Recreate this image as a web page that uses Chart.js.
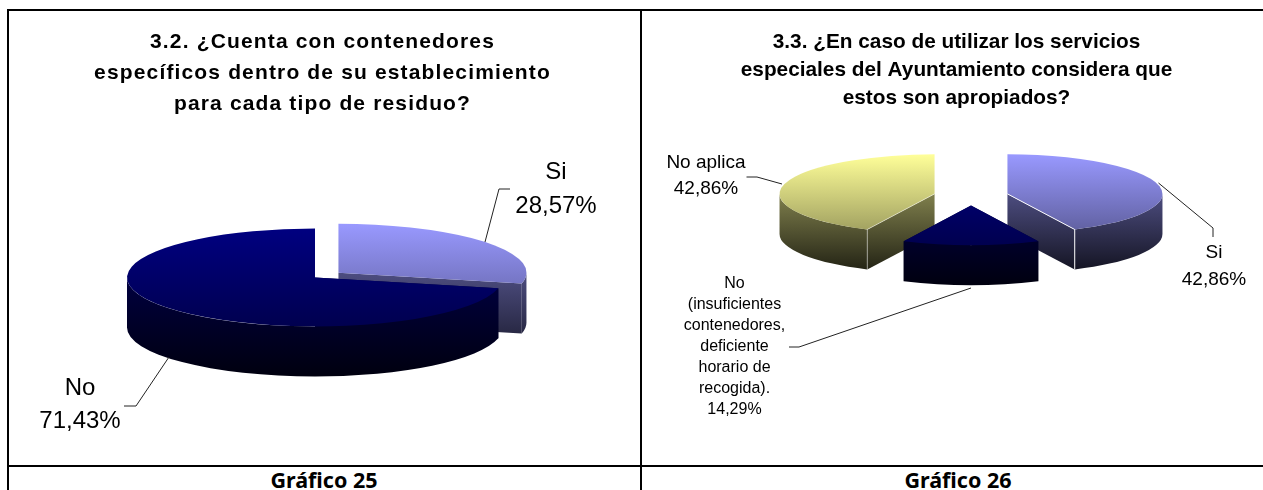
<!DOCTYPE html>
<html lang="es"><head><meta charset="utf-8">
<script src="https://cdn.jsdelivr.net/npm/chart.js@4"></script>
<style>
html,body{margin:0;padding:0;background:#fff;overflow:hidden}
#page{position:relative;width:1263px;height:490px;overflow:hidden}
.rule{position:absolute;background:#000}
canvas{position:absolute}
#w1{position:absolute;left:8px;top:12px;width:629px;height:452px}
#w2{position:absolute;left:642px;top:12px;width:629px;height:452px}
.cap{position:absolute;top:466px;height:28px;font:bold 21.5px/28px "Noto Sans",sans-serif;color:#000;text-align:center;white-space:nowrap}
</style></head><body>
<div id="page">
<div class="rule" style="left:7px;top:9px;width:1256px;height:2px"></div>
<div class="rule" style="left:7px;top:465px;width:1256px;height:2px"></div>
<div class="rule" style="left:7px;top:9px;width:2px;height:481px"></div>
<div class="rule" style="left:640px;top:9px;width:2px;height:481px"></div>
<div id="w1"><canvas id="c1"></canvas></div>
<div id="w2"><canvas id="c2"></canvas></div>
<div class="cap" style="left:8px;width:632px">Gráfico 25</div>
<div class="cap" style="left:642px;width:632px">Gráfico 26</div>
</div>
<script>
const categories1 = ['Si', 'No'];
const values1 = [28.57, 71.43];
const valueText1 = ['28,57%', '71,43%'];
const colors1 = ['#9999FF', '#000080'];
const title1 = ['3.2. ¿Cuenta con contenedores', 'específicos dentro de su establecimiento', 'para cada tipo de residuo?'];

const categories2 = ['Si', 'No (insuficientes contenedores, deficiente horario de recogida).', 'No aplica'];
const values2 = [42.86, 14.29, 42.86];
const valueText2 = ['42,86%', '14,29%', '42,86%'];
const colors2 = ['#9999FF', '#000080', '#FFFF99'];
const title2 = ['3.3. ¿En caso de utilizar los servicios', 'especiales del Ayuntamiento considera que', 'estos son apropiados?'];

function shade(hex, f) {
  const n = parseInt(hex.slice(1), 16);
  return `rgb(${Math.round((n>>16&255)*f)},${Math.round((n>>8&255)*f)},${Math.round((n&255)*f)})`;
}

// Draws the library's arc elements as an exploded, tilted pie with depth.
const tiltedPie = {
  id: 'tiltedPie',
  beforeDatasetDraw(chart, args, o) {
    const ctx = chart.ctx;
    const arcs = chart.getDatasetMeta(args.index).data;
    const k = o.tilt, depth = o.depth;
    const items = arcs.map((el, i) => {
      const mid = (el.startAngle + el.endAngle) / 2;
      const ex = o.explode[i];
      return {el, i, cx: o.center[0] + Math.cos(mid) * ex, cy: o.center[1] + Math.sin(mid) * ex * k};
    }).sort((a, b) => a.cy - b.cy);
    for (const it of items) {
      const {el, cx, cy} = it;
      const R = el.outerRadius, s = el.startAngle, e = el.endAngle;
      const base = el.options.backgroundColor;
      const px = a => cx + R * Math.cos(a), py = a => cy + R * k * Math.sin(a);
      const top = cy - R * k, front = cy + R * k;
      const wall = ctx.createLinearGradient(0, cy, 0, front + depth);
      wall.addColorStop(0, shade(base, o.wallTop));
      wall.addColorStop(1, shade(base, o.wallBottom));
      ctx.fillStyle = wall;
      for (const a of [s, e]) {
        ctx.beginPath();
        ctx.moveTo(cx, cy); ctx.lineTo(px(a), py(a));
        ctx.lineTo(px(a), py(a) + depth); ctx.lineTo(cx, cy + depth);
        ctx.closePath(); ctx.fill();
      }
      const a0 = Math.max(s, 0), a1 = Math.min(e, Math.PI);
      if (a1 > a0) {
        ctx.beginPath();
        ctx.ellipse(cx, cy, R, R * k, 0, a0, a1);
        ctx.ellipse(cx, cy + depth, R, R * k, 0, a1, a0, true);
        ctx.closePath(); ctx.fill();
      }
      const grad = ctx.createLinearGradient(0, top, 0, front);
      grad.addColorStop(0, base);
      grad.addColorStop(1, shade(base, o.topBottom));
      ctx.fillStyle = grad;
      ctx.beginPath();
      ctx.moveTo(cx, cy);
      ctx.ellipse(cx, cy, R, R * k, 0, s, e);
      ctx.closePath(); ctx.fill();
      if (o.edge && e - s < Math.PI * 0.9 && e - s > Math.PI * 0.5) {
        const a = s < -1 && e < Math.PI ? e : s;
        ctx.strokeStyle = base === '#9999FF' ? 'rgba(255,255,255,0.95)' : 'rgba(255,255,255,0.45)';
        ctx.lineWidth = 1;
        ctx.beginPath(); ctx.moveTo(cx, cy); ctx.lineTo(px(a), py(a));
        ctx.lineTo(px(a), py(a) + depth); ctx.stroke();
      }
    }
    return false;
  },
  afterDraw(chart, args, o) {
    const ctx = chart.ctx;
    ctx.save();
    ctx.letterSpacing = '0px';
    ctx.strokeStyle = '#222'; ctx.lineWidth = 1;
    for (const l of o.leaders) {
      ctx.beginPath();
      l.forEach((p, i) => i ? ctx.lineTo(p[0], p[1]) : ctx.moveTo(p[0], p[1]));
      ctx.stroke();
    }
    ctx.fillStyle = '#000'; ctx.textAlign = 'center'; ctx.textBaseline = 'middle';
    for (const b of o.labels) {
      ctx.font = `${b.size}px "Liberation Sans", Arial, sans-serif`;
      b.lines.forEach((t, i) => ctx.fillText(t, b.x, b.y + i * b.step));
    }
    ctx.restore();
  }
};

function make(id, labels, data, colors, title, titleFont, lineH, titleTop, radius, pie, spacing) {
  const c = document.getElementById(id);
  return new Chart(c, {
    type: 'pie',
    data: {labels, datasets: [{data, backgroundColor: colors, borderWidth: 0, radius}]},
    options: {
      responsive: true, maintainAspectRatio: false, animation: false,
      plugins: {
        legend: {display: false}, tooltip: {enabled: false},
        title: {display: true, text: title, color: '#000', padding: {top: titleTop, bottom: 0},
                font: {family: '"Liberation Sans", Arial, sans-serif', weight: 'bold', size: titleFont, lineHeight: lineH / titleFont}},
        tiltedPie: pie
      }
    },
    plugins: [{id: 'sp', beforeDraw(ch) { ch.ctx.letterSpacing = spacing; }}, tiltedPie]
  });
}

// canvas 1 origin is at page (8,12); canvas 2 at page (642,12)
const o1 = (x, y) => [x - 8, y - 12];
const o2 = (x, y) => [x - 642, y - 12];

make('c1', categories1, values1, colors1, title1, 21, 31, 15, 188, {
  center: o1(315, 277.5), explode: [30, 0],
  tilt: 0.26, depth: 50, wallTop: 0.5, wallBottom: 0.12, topBottom: 0.62, edge: false,
  leaders: [[o1(485,242), o1(499,189), o1(510,189)], [o1(169,357), o1(136,406), o1(124,406)]],
  labels: [
    {lines: [categories1[0], valueText1[0]], x: 556-8, y: 172-12, step: 34, size: 24},
    {lines: [categories1[1], valueText1[1]], x: 80-8, y: 388-12, step: 33, size: 24}
  ]
}, '1.15px');

make('c2', categories2, values2, colors2, title2, 20.8, 28, 16, 155, {
  center: o2(971, 196), explode: [37.4, 37.4, 37.4],
  tilt: 0.255, depth: 40, wallTop: 0.5, wallBottom: 0.12, topBottom: 0.62, edge: true,
  leaders: [[o2(1158.5,183), o2(1213,228), o2(1213,237)], [o2(782,184), o2(757,177), o2(746.5,177)], [o2(971,288), o2(799,347), o2(789,347)]],
  labels: [
    {lines: ['No aplica', valueText2[2]], x: 706-642, y: 163-12, step: 26, size: 19},
    {lines: ['Si', valueText2[0]], x: 1214-642, y: 253-12, step: 27, size: 19},
    {lines: ['No', '(insuficientes', 'contenedores,', 'deficiente', 'horario de', 'recogida).', valueText2[1]], x: 734.5-642, y: 284-12, step: 21, size: 16}
  ]
}, '0px');
</script>
</body></html>
